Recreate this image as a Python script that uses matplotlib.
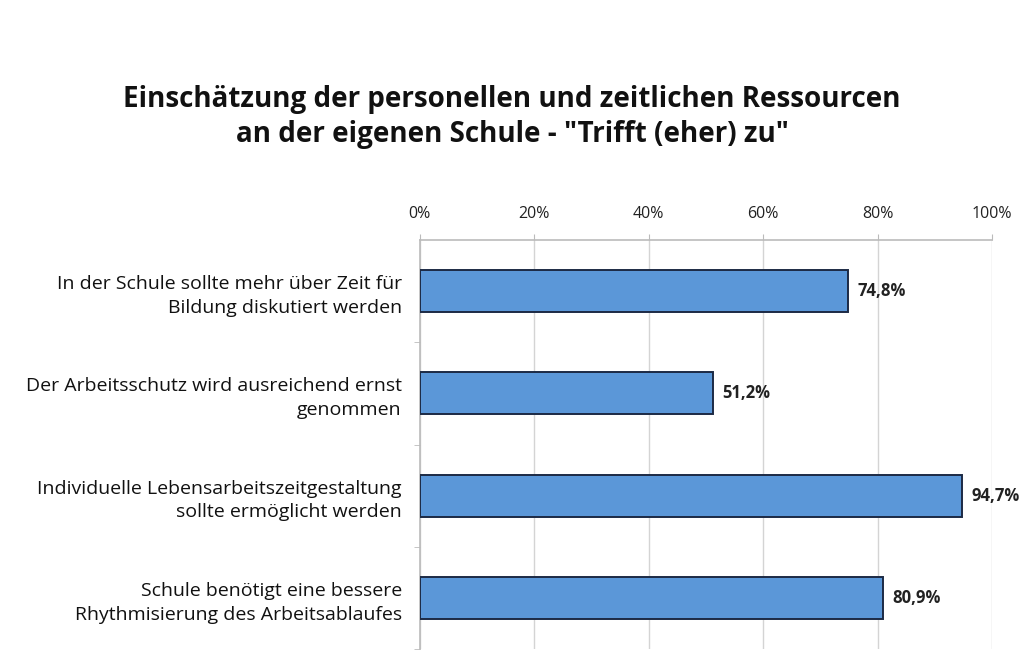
import matplotlib as mpl
mpl.use("Agg")
import matplotlib.pyplot as plt
import numpy as np

# Data
categories = [
    "In der Schule sollte mehr über Zeit für\nBildung diskutiert werden",
    "Der Arbeitsschutz wird ausreichend ernst\ngenommen",
    "Individuelle Lebensarbeitszeitgestaltung\nsollte ermöglicht werden",
    "Schule benötigt eine bessere\nRhythmisierung des Arbeitsablaufes",
]
values = [74.8, 51.2, 94.7, 80.9]
ticks = [0, 20, 40, 60, 80, 100]
title = 'Einschätzung der personellen und zeitlichen Ressourcen\nan der eigenen Schule - "Trifft (eher) zu"'

plt.rcParams['font.family'] = ['Open Sans', 'DejaVu Sans']

fig = plt.figure(figsize=(10.24, 6.68), dpi=100)
ax = fig.add_axes([0.41, 0.028, 0.559, 0.613])

y = np.arange(len(categories))
ax.barh(y, values, height=0.41, color='#5b97d8', edgecolor='#1c2a44', linewidth=1.4, zorder=3)
for yi, v in zip(y, values):
    ax.text(v + 1.6, yi, f"{v:.1f}%".replace('.', ','), va='center', ha='left',
            fontsize=12, fontweight='bold', color='#222222')

ax.set_xlim(0, 100)
ax.set_ylim(len(categories) - 0.5, -0.5)
ax.set_xticks(ticks)
ax.set_xticklabels([f"{t}%" for t in ticks], fontsize=11.5, color='#222222')
ax.xaxis.tick_top()
ax.tick_params(axis='x', length=4, color='#bbbbbb', pad=9)
ax.set_yticks(y)
ax.set_yticklabels(categories, fontsize=14, color='#111111', linespacing=1.4,
                   multialignment='right')
ax.tick_params(axis='y', length=0, pad=13)
ax.set_yticks(np.arange(len(categories)) + 0.5, minor=True)
ax.tick_params(axis='y', which='minor', length=4, color='#bbbbbb')

ax.grid(axis='x', color='#d4d4d4', linewidth=1, zorder=0)
for s in ['right', 'bottom']:
    ax.spines[s].set_visible(False)
for s in ['left', 'top']:
    ax.spines[s].set_color('#bbbbbb')
    ax.spines[s].set_linewidth(1.2)

fig.text(0.5, 0.825, title, ha='center', va='center', fontsize=20, fontweight='bold',
         color='#111111', linespacing=1.3)

plt.savefig("out.png", dpi=100)
